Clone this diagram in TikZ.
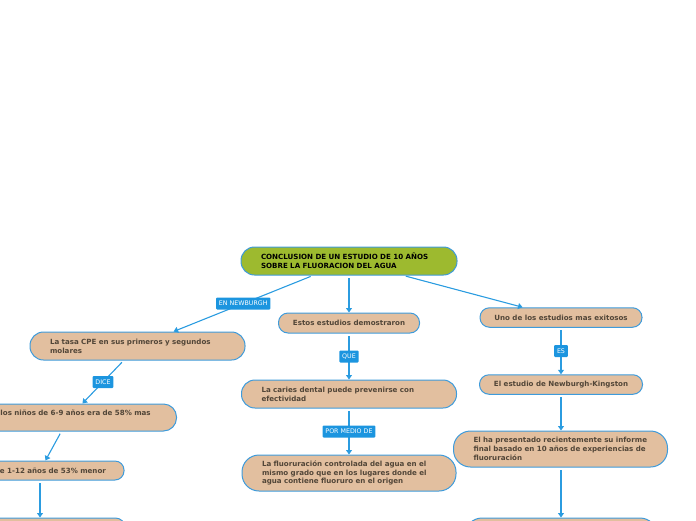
\documentclass[tikz,border=0pt]{standalone}
\usepackage{fontspec}
\setmainfont{DejaVu Sans}
\usetikzlibrary{arrows.meta}
\definecolor{beige}{HTML}{E2BF9F}
\definecolor{bord}{HTML}{3E9BDB}
\definecolor{leaf}{HTML}{9DBA2F}
\definecolor{tagc}{HTML}{1C95DF}
\definecolor{wire}{HTML}{2B9CE0}
\definecolor{ink}{HTML}{524638}
\tikzset{
  box/.style={draw=bord, line width=1pt, fill=beige, text=ink,
    font=\fontsize{7.1}{8.8}\selectfont\bfseries, inner xsep=20pt, inner ysep=0pt, align=left},
  cbox/.style={box, inner xsep=0pt, align=center},
  rootbox/.style={box, fill=leaf, text=black},
  tag/.style={fill=tagc, text=white, font=\fontsize{6.3}{7}\selectfont,
    inner xsep=2.8pt, inner ysep=0pt, minimum height=12pt, rounded corners=1pt},
  conn/.style={draw=wire, line width=1.1pt, -{Triangle[width=6pt,length=4.5pt]}, shorten <=2.5pt},
}
\begin{document}
\begin{tikzpicture}[x=1pt,y=-1pt]
\useasboundingbox (0,0) rectangle (696,520);
\clip (0,0) rectangle (696,520);

\node[rootbox, text width=176pt, minimum height=28pt, rounded corners=13.5pt] (root) at (349,261)
  {CONCLUSION DE UN ESTUDIO DE 10 AÑOS\\SOBRE LA FLUORACION DEL AGUA};

\node[box, text width=175pt, minimum height=28pt, rounded corners=13.5pt] (n1) at (137.5,346)
  {La tasa CPE en sus primeros y segundos\\molares};
\node[box, text width=175pt, minimum height=27pt, rounded corners=13pt] (ninos) at (69,417.5)
  {\hspace*{19pt}los niños de 6-9 años era de 58\% mas\\\mbox{}};
\node[box, text width=128pt, minimum height=19pt, rounded corners=9pt] (e112) at (40,470.5)
  {\mbox{\hspace*{24pt}e 1-12 años de 53\% menor}};
\node[box, text width=130pt, minimum height=20pt, rounded corners=9.5pt] (botL) at (40,528) {};

\node[cbox, minimum width=141pt, minimum height=20pt, rounded corners=9.5pt] (estos) at (349,323)
  {Estos estudios demostraron};
\node[box, text width=175pt, minimum height=28pt, rounded corners=13.5pt] (caries) at (349,394)
  {La caries dental puede prevenirse con\\efectividad};
\node[box, text width=174pt, minimum height=36pt, rounded corners=17pt] (fluor) at (349,473)
  {La fluoruración controlada del agua en el\\mismo grado que en los lugares donde el\\agua contiene fluoruro en el origen};

\node[cbox, minimum width=162pt, minimum height=19.5pt, rounded corners=9.5pt] (uno) at (561,317.5)
  {Uno de los estudios mas exitosos};
\node[cbox, minimum width=163pt, minimum height=19.5pt, rounded corners=9.5pt] (nk) at (561,384.5)
  {El estudio de Newburgh-Kingston};
\node[box, text width=174pt, minimum height=36pt, rounded corners=17pt] (elha) at (560.5,449)
  {El ha presentado recientemente su informe\\final basado en 10 años de experiencias de\\fluoruración};
\node[box, text width=152pt, minimum height=36pt, rounded corners=17pt] (botR) at (561,536) {};

\draw[conn] (root) -- node[tag] (t1) {EN NEWBURGH} (n1);
\draw[conn] (n1) -- node[tag] (t2) {DICE} (ninos);
\draw[conn] (ninos) -- (e112);
\draw[conn] (e112) -- (botL);
\draw[conn] (root) -- (estos);
\draw[conn] (estos) -- node[tag] (t3) {QUE} (caries);
\draw[conn] (caries) -- node[tag] (t4) {POR MEDIO DE} (fluor);
\draw[conn] (root) -- (uno);
\draw[conn] (uno) -- node[tag] (t5) {ES} (nk);
\draw[conn] (nk) -- (nk |- elha.north);
\draw[conn] (elha.south -| botR) -- (botR);
\end{tikzpicture}
\end{document}
